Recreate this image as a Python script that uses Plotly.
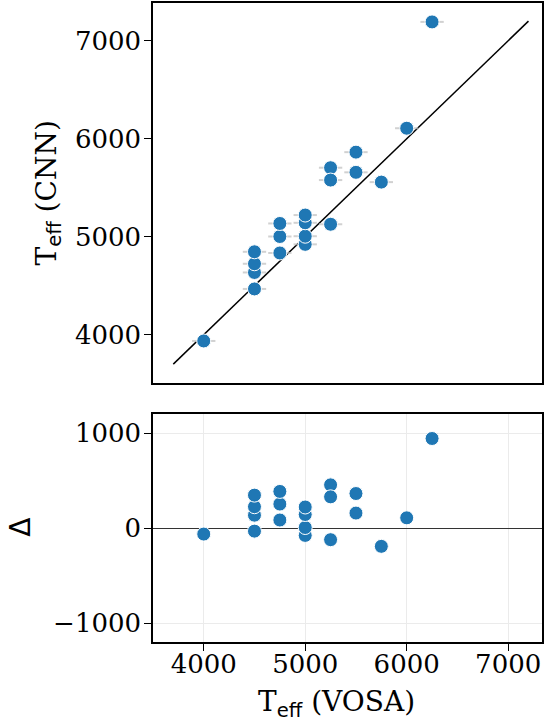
import plotly.graph_objects as go
from plotly.subplots import make_subplots

# ---- data ----
t_vosa = [4000, 4500, 4500, 4500, 4500, 4750, 4750, 4750, 5000, 5000,
          5000, 5000, 5250, 5250, 5250, 5500, 5500, 5750, 6000, 6250]
t_cnn = [3936, 4467, 4635, 4724, 4846, 4834, 5002, 5135, 4922, 5005,
         5142, 5221, 5704, 5578, 5127, 5863, 5657, 5557, 6107, 7192]
t_vosa_err = [115] * len(t_vosa)
one_to_one = [3700, 7200]
delta = [c - v for c, v in zip(t_cnn, t_vosa)]

x_ticks = [4000, 5000, 6000, 7000]
y_ticks_top = [4000, 5000, 6000, 7000]
y_ticks_bot = [-1000, 0, 1000]

BLUE = "#1f77b4"
SERIF = "DejaVu Serif"
SANS = "DejaVu Sans"
TICK_SIZE = 26
TITLE_SIZE = 28

W, H = 545, 724
ML, MR, MT, MB = 153, 1, 3, 82
plot_h = H - MT - MB

def frac(py):
    return (H - MB - py) / plot_h

fig = make_subplots(rows=2, cols=1, shared_xaxes=False)

fig.add_trace(go.Scatter(
    x=one_to_one, y=one_to_one, mode="lines",
    line=dict(color="black", width=1.5), showlegend=False, hoverinfo="skip"),
    row=1, col=1)

fig.add_trace(go.Scatter(
    x=t_vosa, y=t_cnn, mode="markers",
    error_x=dict(type="data", array=t_vosa_err, color="rgba(190,190,190,0.7)",
                 thickness=2, width=0),
    marker=dict(color=BLUE, size=14, line=dict(color="white", width=1)),
    showlegend=False), row=1, col=1)

fig.add_trace(go.Scatter(
    x=t_vosa, y=delta, mode="markers",
    marker=dict(color=BLUE, size=14, line=dict(color="white", width=1)),
    showlegend=False), row=2, col=1)

def axis(**kw):
    base = dict(
        showline=True, linecolor="black", linewidth=1.5, mirror=True,
        ticks="outside", ticklen=7, tickwidth=1.3, tickcolor="black",
        tickfont=dict(family=SERIF, size=TICK_SIZE, color="black"),
    )
    base.update(kw)
    return base

xr = [3500, 3500 + (W - ML - MR) / 0.102]

fig.update_layout(
    width=W, height=H, autosize=False,
    margin=dict(l=ML, r=MR, t=MT, b=MB, pad=0),
    paper_bgcolor="white", plot_bgcolor="white",
    xaxis=axis(domain=[0, 1], range=xr, tickvals=x_ticks,
               showticklabels=False, ticks="", showgrid=False, zeroline=False,
               anchor="y"),
    yaxis=axis(domain=[frac(383), 1.0], range=[3507, 7385],
               tickvals=y_ticks_top, showgrid=False, zeroline=False, anchor="x",
               ticklabelstandoff=-2),
    xaxis2=axis(domain=[0, 1], range=xr, tickvals=x_ticks,
                showgrid=True, gridcolor="#ebebeb", gridwidth=1, zeroline=False,
                anchor="y2", ticklabelstandoff=-9),
    yaxis2=axis(domain=[0, frac(414)], range=[-1200, 1200],
                tickvals=y_ticks_bot, showgrid=True, gridcolor="#ebebeb",
                gridwidth=1, zeroline=True, zerolinecolor="#333333",
                zerolinewidth=1.3, anchor="x2", ticklabelstandoff=-2),
    annotations=[
        dict(text=f"T<sub><span style=\"font-family:'{SANS}'\">eff</span></sub> (CNN)",
             xref="paper", yref="paper", x=(48 - ML) / (W - ML - MR), y=frac(193),
             xanchor="center", yanchor="middle", textangle=-90, showarrow=False,
             font=dict(family=SERIF, size=TITLE_SIZE, color="black")),
        dict(text="Δ", xref="paper", yref="paper",
             x=(19 - ML) / (W - ML - MR), y=frac(527),
             xanchor="center", yanchor="middle", textangle=-90, showarrow=False,
             font=dict(family=SANS, size=TITLE_SIZE, color="black")),
        dict(text=f"T<sub><span style=\"font-family:'{SANS}'\">eff</span></sub> (VOSA)",
             xref="paper", yref="paper", x=(337 - ML) / (W - ML - MR), y=frac(703),
             xanchor="center", yanchor="middle", showarrow=False,
             font=dict(family=SERIF, size=TITLE_SIZE, color="black")),
    ],
)

fig.write_html("out.html", config={"displayModeBar": False},
               post_script="document.body.style.margin='0px';")
